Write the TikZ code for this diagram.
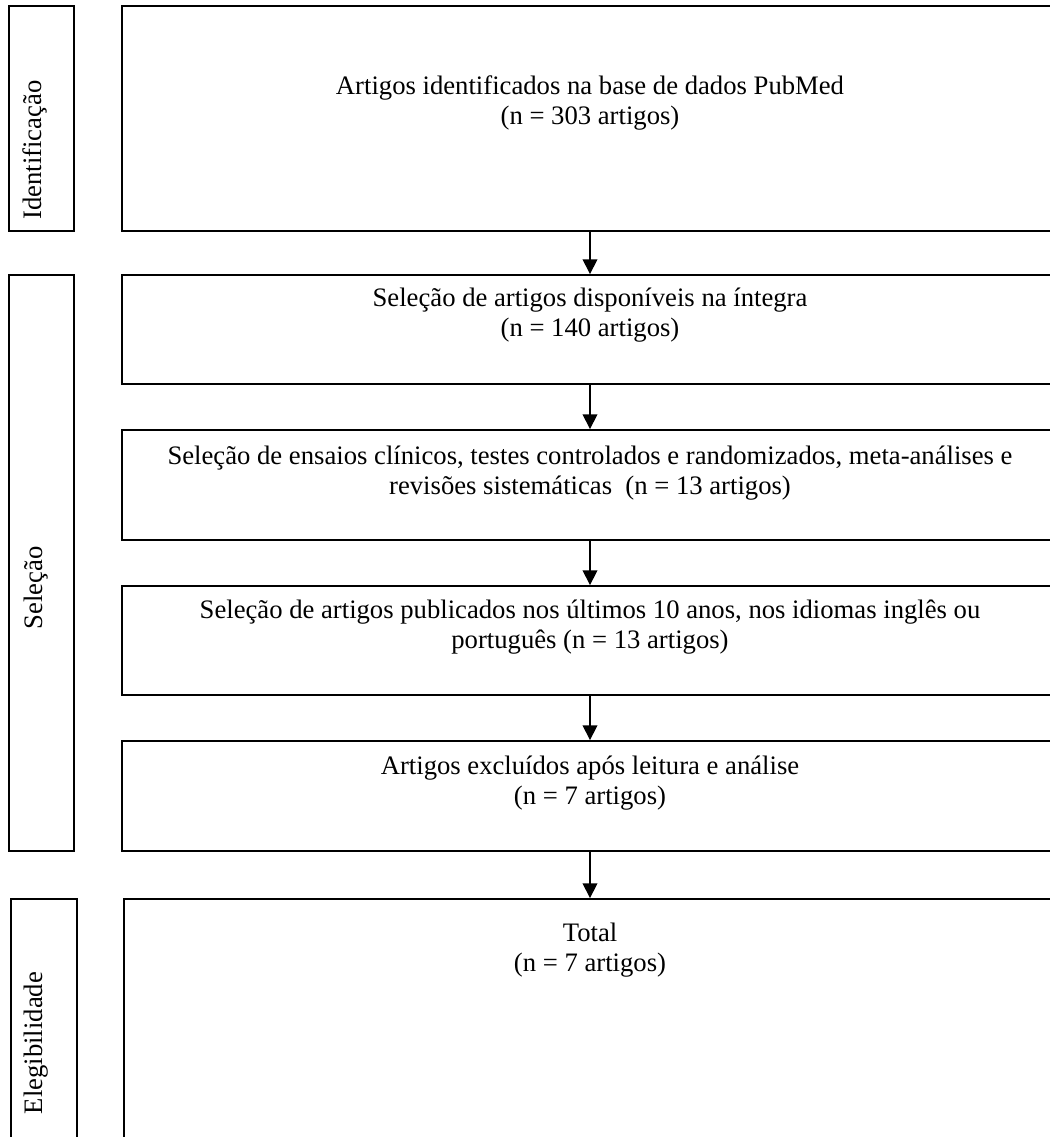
\documentclass[tikz,border=0pt]{standalone}
\usepackage{fontspec}
\setmainfont{Liberation Serif}
\usetikzlibrary{arrows.meta}
\tikzset{
  box/.style={draw=black, line width=1.4pt, inner sep=0pt, minimum width=#1*0.75pt},
  txt/.style={align=center, inner sep=0pt, font=\fontsize{20}{23}\selectfont},
  vlab/.style={rotate=90, inner sep=0pt, font=\fontsize{20}{23}\selectfont},
  arr/.style={line width=1.1pt, -{Triangle[width=11pt,length=11pt]}},
}
\begin{document}
\begin{tikzpicture}[x=0.75pt, y=-0.75pt]
\useasboundingbox (0,0) rectangle (1049,1137);
% label boxes
\node[box=65, minimum height=225*0.75pt] (l1) at (41.5,118.5) {};
\node[box=65, minimum height=576*0.75pt] (l2) at (41.5,563) {};
\node[box=66, minimum height=261*0.75pt] (l3) at (44,1029.5) {};
\node[vlab] (t1) at (35,150) {Identificação};
\node[vlab] (t2) at (36,588) {Seleção};
\node[vlab] (t3) at (36,1043) {Elegibilidade};
% main boxes
\node[box=936, minimum height=225*0.75pt] (b1) at (590,118.5) {};
\node[box=936, minimum height=109*0.75pt] (b2) at (590,329.5) {};
\node[box=936, minimum height=110*0.75pt] (b3) at (590,485) {};
\node[box=936, minimum height=109*0.75pt] (b4) at (590,640.5) {};
\node[box=936, minimum height=110*0.75pt] (b5) at (590,796) {};
\node[box=934, minimum height=261*0.75pt] (b6) at (591,1029.5) {};
% texts
\node[txt] (x1) at (590,103) {Artigos identificados na base de dados PubMed\\(n = 303 artigos)};
\node[txt] (x2) at (590,315) {Seleção de artigos disponíveis na íntegra\\(n = 140 artigos)};
\node[txt] (x3) at (590,473) {Seleção de ensaios clínicos, testes controlados e randomizados, meta-análises e\\revisões sistemáticas\ \ (n = 13 artigos)};
\node[txt] (x4) at (590,627) {Seleção de artigos publicados nos últimos 10 anos, nos idiomas inglês ou\\português (n = 13 artigos)};
\node[txt] (x5) at (590,783) {Artigos excluídos após leitura e análise\\(n = 7 artigos)};
\node[txt] (x6) at (590,950) {Total\\(n = 7 artigos)};
% arrows
\draw[arr] (b1.south) -- (b2.north);
\draw[arr] (b2.south) -- (b3.north);
\draw[arr] (b3.south) -- (b4.north);
\draw[arr] (b4.south) -- (b5.north);
\draw[arr] (b5.south) -- (b6.north -| b5.south);
\end{tikzpicture}
\end{document}
